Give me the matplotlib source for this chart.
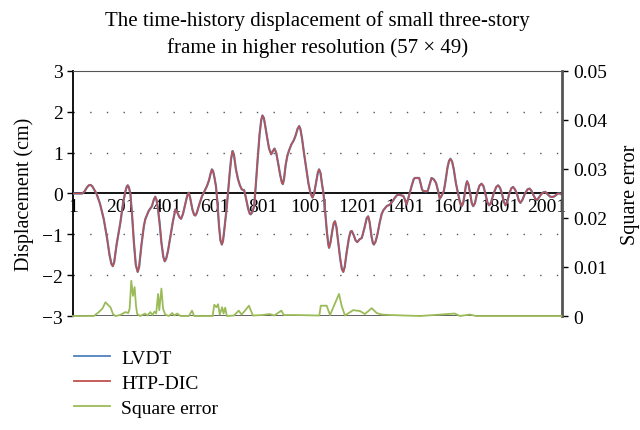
import matplotlib
matplotlib.use("Agg")
import matplotlib.pyplot as plt
from matplotlib.lines import Line2D

# ---- data ----
disp_idx = [1, 40, 50, 60, 68, 75, 82, 90, 100, 115,
            131, 145, 155, 163, 169, 175, 185, 201, 212, 222,
            228, 232, 237, 243, 250, 258, 266, 274, 280, 290,
            300, 306, 320, 334, 342, 348, 353, 358, 366, 374,
            382, 388, 394, 402, 412, 422, 433, 440, 450, 457,
            465, 475, 483, 489, 495, 505, 512, 517, 523, 533,
            545, 555, 566, 575, 582, 587, 592, 598, 604, 610,
            617, 623, 629, 634, 640, 650, 656, 662, 668, 674,
            680, 688, 697, 705, 713, 723, 730, 740, 747, 751,
            758, 765, 772, 780, 788, 795, 800, 806, 812, 819,
            828, 837, 845, 851, 858, 866, 875, 882, 886, 891,
            898, 905, 912, 922, 932, 940, 948, 955, 960, 967,
            975, 985, 994, 1003, 1011, 1018, 1027, 1034, 1039, 1045,
            1052, 1057, 1064, 1072, 1078, 1081, 1087, 1095, 1101, 1106,
            1112, 1120, 1128, 1135, 1141, 1147, 1155, 1165, 1172, 1177,
            1185, 1193, 1200, 1210, 1219, 1230, 1240, 1246, 1252, 1260,
            1266, 1270, 1277, 1285, 1295, 1303, 1310, 1324, 1338, 1350,
            1359, 1366, 1373, 1383, 1394, 1401, 1408, 1415, 1422, 1430,
            1438, 1443, 1452, 1461, 1467, 1473, 1478, 1490, 1497, 1504,
            1513, 1522, 1532, 1540, 1548, 1556, 1565, 1572, 1580, 1587,
            1593, 1600, 1607, 1616, 1625, 1633, 1640, 1646, 1652, 1658,
            1663, 1669, 1676, 1683, 1689, 1696, 1705, 1715, 1724, 1732,
            1740, 1749, 1756, 1764, 1775, 1786, 1794, 1802, 1810, 1818,
            1825, 1833, 1841, 1850, 1857, 1865, 1873, 1881, 1888, 1897,
            1907, 1918, 1927, 1935, 1943, 1951, 1958, 1966, 1975, 1985,
            1993, 2003, 2014, 2028, 2038, 2046, 2054, 2061]
lvdt = [0, 0, 0.05, 0.15, 0.2, 0.21, 0.18, 0.1, 0, -0.25,
        -0.63, -1.1, -1.5, -1.72, -1.78, -1.68, -1.25, -0.71, -0.25, 0.05,
        0.17, 0.2, 0.15, 0, -0.5, -1.2, -1.75, -1.92, -1.8, -1.25,
        -0.8, -0.63, -0.43, -0.31, -0.15, -0.08, -0.15, -0.31, -0.7, -1.2,
        -1.55, -1.66, -1.6, -1.4, -1.05, -0.7, -0.39, -0.45, -0.58, -0.62,
        -0.5, -0.25, -0.05, 0.02, -0.1, -0.4, -0.52, -0.54, -0.48, -0.28,
        -0.07, 0.05, 0.18, 0.33, 0.5, 0.59, 0.55, 0.38, 0.18, -0.2,
        -0.8, -1.15, -1.25, -1.15, -0.85, -0.31, 0.1, 0.5, 0.85, 1.04,
        0.95, 0.6, 0.35, 0.2, 0.1, 0.08, -0.1, -0.38, -0.5, -0.51,
        -0.45, -0.31, 0.2, 0.85, 1.45, 1.8, 1.91, 1.85, 1.65, 1.40,
        1.1, 0.96, 1.05, 1.1, 1.0, 0.75, 0.45, 0.27, 0.23, 0.35,
        0.7, 0.92, 1.05, 1.2, 1.3, 1.42, 1.58, 1.65, 1.58, 1.35,
        1.0, 0.6, 0.25, 0.0, -0.10, 0.0, 0.3, 0.52, 0.59, 0.5,
        0.2, 0.02, -0.4, -0.95, -1.25, -1.33, -1.2, -0.9, -0.72, -0.68,
        -0.82, -1.2, -1.6, -1.85, -1.92, -1.8, -1.45, -1.08, -0.93, -0.92,
        -1.02, -1.15, -1.19, -1.12, -1.09, -0.85, -0.6, -0.56, -0.7, -1.05,
        -1.22, -1.25, -1.18, -1.0, -0.7, -0.5, -0.41, -0.31, -0.27, -0.18,
        -0.10, -0.05, -0.03, -0.04, -0.06, -0.15, -0.27, -0.12, 0.02, 0.2,
        0.35, 0.38, 0.38, 0.38, 0.25, 0.1, 0.06, 0.05, 0.06, 0.2,
        0.38, 0.35, 0.26, 0.08, -0.13, -0.05, 0.06, 0.3, 0.62, 0.8,
        0.85, 0.78, 0.59, 0.25, 0.0, -0.22, -0.31, -0.25, -0.05, 0.2,
        0.30, 0.22, 0.0, -0.24, -0.31, -0.24, 0.0, 0.19, 0.24, 0.18,
        0.0, -0.22, -0.29, -0.22, 0.0, 0.16, 0.20, 0.14, 0.0, -0.2,
        -0.29, -0.2, 0.0, 0.13, 0.16, 0.1, 0.0, -0.17, -0.23, -0.15,
        0.0, 0.1, 0.12, 0.06, -0.04, -0.13, -0.16, -0.1, -0.02, 0.03,
        0.04, -0.02, -0.08, -0.08, -0.04, 0.0, 0.0, -0.02]
htp_dic = list(lvdt)

err_idx = [1, 89, 110, 125, 138, 150, 159, 170, 180, 200, 222, 234, 240, 247, 254, 261, 267,
           272, 285, 305, 315, 327, 336, 345, 352, 360, 365, 374, 381, 390, 405, 420, 428, 441,
           454, 490, 503, 512, 590, 597, 606, 613, 620, 630, 636, 643, 650, 680, 700, 712, 730,
           743, 752, 760, 800, 830, 850, 880, 890, 940, 1040, 1046, 1071, 1085, 1123, 1134,
           1148, 1183, 1212, 1232, 1261, 1282, 1303, 1338, 1464, 1611, 1633, 1675, 1700, 2061]
sq_err = [0, 0, 0.0008, 0.0015, 0.0028, 0.0022, 0.0018, 0.0004, 0, 0.0002, 0.0008, 0.0006,
          0.0015, 0.0072, 0.0041, 0.0059, 0.002, 0.0004, 0, 0.0005, 0.0001, 0.0008, 0.0002,
          0.0009, 0.0005, 0.0045, 0.0012, 0.0056, 0.0015, 0.0003, 0, 0.0006, 0.0001, 0.0005, 0,
          0, 0.0011, 0, 0, 0.0023, 0.0018, 0.0024, 0.0003, 0.0018, 0.0005, 0.0017, 0, 0.0001,
          0.0011, 0.0003, 0.0013, 0.0021, 0.0010, 0.0001, 0.0002, 0.0004, 0.0001, 0.0011,
          0.0002, 0.0002, 0.0001, 0.0021, 0.0021, 0.0002, 0.0045, 0.0021, 0.0001, 0.0012,
          0.0010, 0.0004, 0.0016, 0.0006, 0.0003, 0.0002, 0.0, 0.0005, 0.0, 0.0003, 0.0, 0.0]

x_ticks = [1, 201, 401, 601, 801, 1001, 1201, 1401, 1601, 1801, 2001]
y_ticks = [-3, -2, -1, 0, 1, 2, 3]
y2_ticks = [0, 0.01, 0.02, 0.03, 0.04, 0.05]
y2_labels = ["0", "0.01", "0.02", "0.03", "0.04", "0.05"]

title = "The time-history displacement of small three-story\nframe in higher resolution (57 \u00d7 49)"

# ---- figure ----
plt.rcParams['font.family'] = ['Liberation Serif', 'DejaVu Serif']
fig = plt.figure(figsize=(6.4, 4.31), dpi=100)
ax = fig.add_axes([0.114, 0.2645, 0.764, 0.5685])

c_blue = '#4F81BD'
c_red = '#C0504D'
c_green = '#9BBB59'

for yv in [-2, -1, 1, 2]:
    ax.axhline(yv, color='#555555', lw=1.0, ls=(0, (1, 11)), zorder=1)

ax.plot(disp_idx, lvdt, color=c_blue, lw=1.6, zorder=3)
ax.plot(disp_idx, htp_dic, color=c_red, lw=1.1, zorder=4)

ax.set_xlim(1, 2063)
ax.set_ylim(-3, 3)
ax.spines['bottom'].set_position(('data', 0))
ax.spines['bottom'].set_color('black')
ax.spines['bottom'].set_linewidth(1.3)
ax.set_yticks(y_ticks)
ax.set_yticklabels([str(v) if v >= 0 else "\u2212" + str(-v) for v in y_ticks])
ax.set_xticks(x_ticks)
ax.set_xticklabels([str(v) for v in x_ticks])
ax.tick_params(axis='x', length=0, pad=3, labelsize=14)
ax.tick_params(axis='y', length=4, width=1, direction='out', pad=3, labelsize=14)
ax.spines['left'].set_linewidth(1.3)
ax.spines['top'].set_color('#555555')
ax.spines['right'].set_visible(False)
ax.axhline(-3, color='#555555', lw=1.3, zorder=2)
ax.set_ylabel("Displacement (cm)", fontsize=14.5, labelpad=6)
ax.set_title(title, fontsize=15, pad=14, linespacing=1.45)

ax2 = ax.twinx()
ax2.plot(err_idx, sq_err, color=c_green, lw=1.3, zorder=3, clip_on=False)
ax2.set_ylim(0, 0.05)
ax2.set_yticks(y2_ticks)
ax2.set_yticklabels(y2_labels)
ax2.tick_params(axis='y', length=4, width=1, direction='out', pad=4, labelsize=14)
for s in ['left', 'top', 'bottom']:
    ax2.spines[s].set_visible(False)
ax2.spines['right'].set_color('#555555')
ax2.spines['right'].set_linewidth(2.0)
ax2.set_ylabel("Square error", fontsize=14.5, labelpad=10)

handles = [Line2D([], [], color=c_blue, lw=1.3),
           Line2D([], [], color=c_red, lw=1.3),
           Line2D([], [], color=c_green, lw=1.3)]
fig.legend(handles, ["LVDT", "HTP-DIC", "Square error"], loc='upper left',
           bbox_to_anchor=(0.088, 0.228), frameon=False, fontsize=14,
           handlelength=1.85, handletextpad=0.6, labelspacing=0.38)

fig.savefig("out.png", dpi=100)
